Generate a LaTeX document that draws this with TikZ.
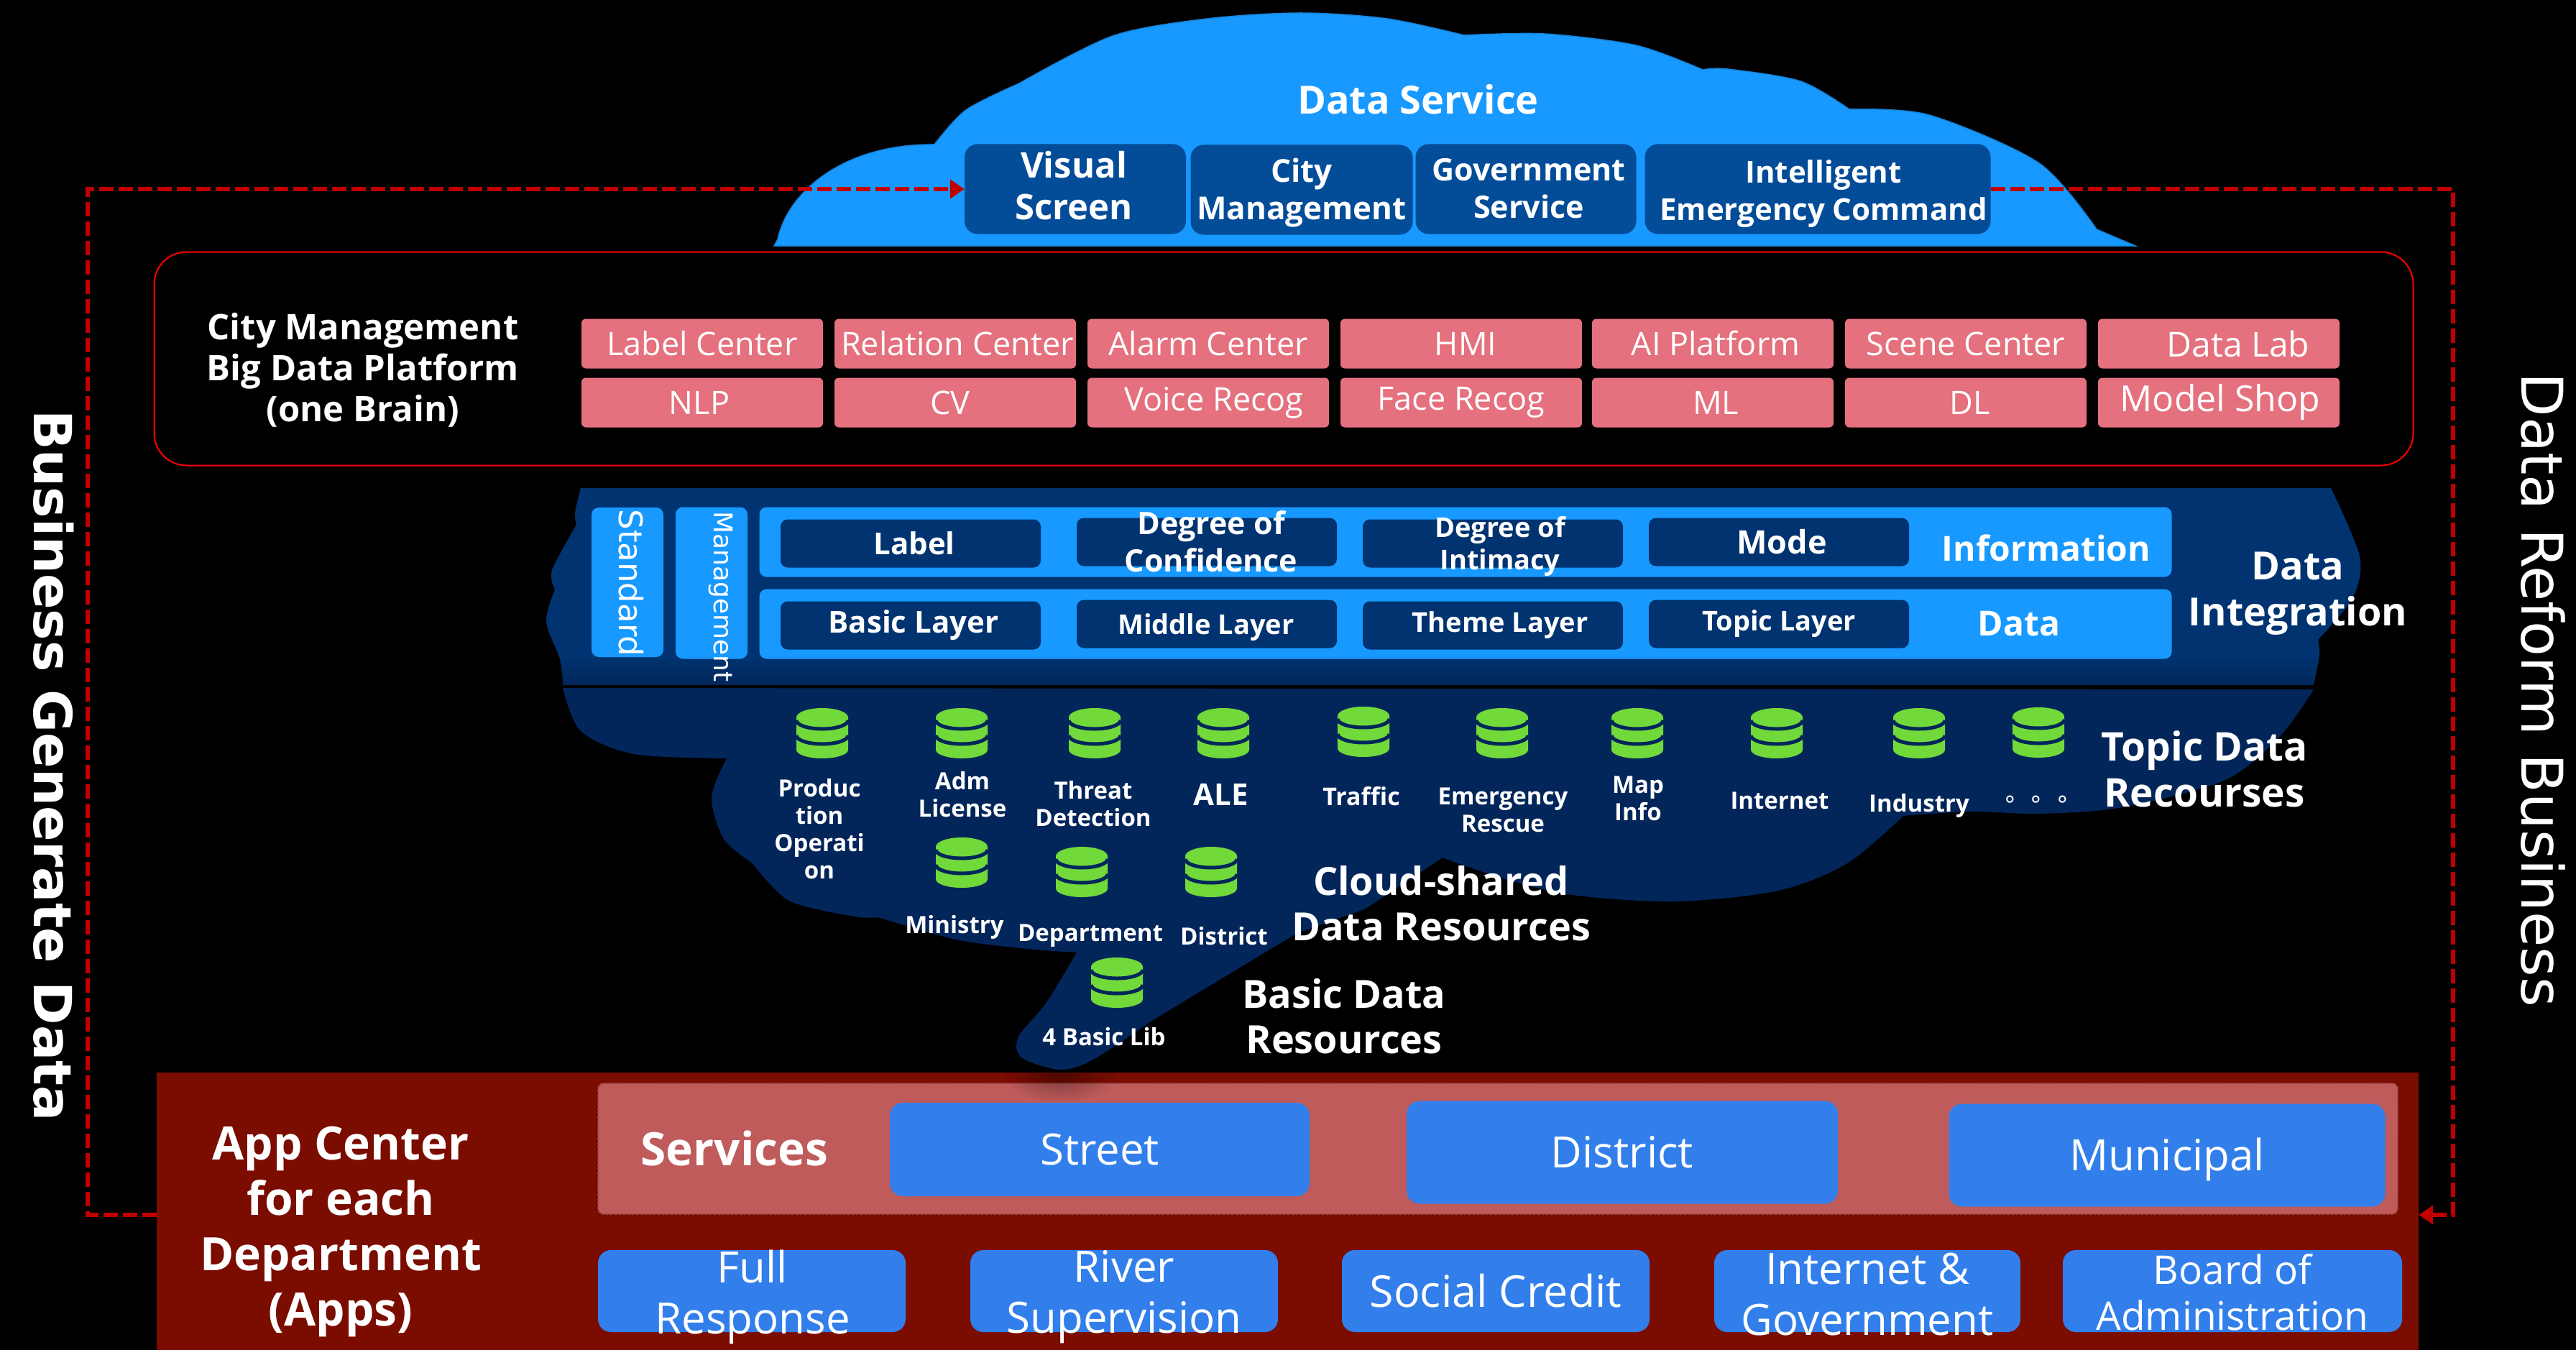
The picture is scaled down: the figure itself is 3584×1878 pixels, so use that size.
\documentclass[tikz,border=0pt]{standalone}
\usepackage{fontspec}
\setmainfont{Open Sans}
\newfontfamily\widefont{DejaVu Sans}
\usetikzlibrary{arrows.meta,fadings}
\definecolor{cloudblue}{RGB}{24,153,255}
\definecolor{deepblue}{RGB}{3,76,152}
\definecolor{layernavy}{RGB}{0,51,112}
\definecolor{resnavy}{RGB}{2,38,90}
\definecolor{brainpink}{RGB}{229,112,126}
\definecolor{dbgreen}{RGB}{114,217,59}
\definecolor{bandred}{RGB}{123,12,0}
\definecolor{barrose}{RGB}{191,91,91}
\definecolor{appblue}{RGB}{50,127,235}
\definecolor{linkred}{RGB}{192,0,0}
\tikzfading[name=softspot, inner color=transparent!0, outer color=transparent!100]
\def\pxfont#1#2{\fontsize{#1pt}{#2pt}\selectfont}
\def\dbicon(#1,#2){
	\fill[dbgreen] ({#1-36},{#2+13}) arc[start angle=180,end angle=360,x radius=36,y radius=13] -- ({#1+36},{#2+58}) arc[start angle=0,end angle=180,x radius=36,y radius=12] -- cycle;
	\draw[resnavy, line width=5] ({#1-36},{#2+17}) arc[start angle=180,end angle=0,x radius=36,y radius=12];
	\draw[resnavy, line width=5] ({#1-36},{#2+38}) arc[start angle=180,end angle=0,x radius=36,y radius=12];
}
\tikzset{
	plain/.style={text=white, inner sep=0pt, align=center},
	headtext/.style={plain, font=\bfseries\pxfont{54}{63}},
	servicebox/.style={plain, fill=deepblue, rounded corners=18, minimum height=125},
	brainbox/.style={plain, fill=brainpink, rounded corners=6, minimum width=336, minimum height=69, font=\pxfont{45}{52}},
	rowbar/.style={plain, fill=cloudblue, rounded corners=10, minimum width=1965, minimum height=97},
	sidebar/.style={plain, fill=cloudblue, rounded corners=10, minimum width=100},
	layerbox/.style={plain, fill=layernavy, rounded corners=10, minimum width=362, minimum height=67, font=\bfseries\pxfont{38}{46}},
	dbtext/.style={plain, font=\bfseries\pxfont{33}{38}},
	appbox/.style={plain, fill=appblue, rounded corners=18, font=\pxfont{60}{70}},
	flowline/.style={linkred, line width=6, dash pattern=on 20pt off 7pt, -{Triangle[length=20pt,width=26pt]}},
}
\begin{document}
\begin{tikzpicture}[x=1pt,y=-1pt]
		\fill[black] (0,0) rectangle (3584,1878);
		\useasboundingbox (0,0) rectangle (3584,1878);
		
		%%%%% data service %%%%%
		\filldraw[cloudblue!85!black, fill=cloudblue, line width=1.5] (1077,342)
			-- (1082,333) .. controls (1095,270) and (1170,200) .. (1300,201)
			-- plot[smooth] coordinates {(1300,201) (1344,153) (1418,116)}
			-- plot[smooth] coordinates {(1418,116) (1548,50) (1680,26) (1810,18) (1930,26) (2037,49)}
			-- plot[smooth] coordinates {(2037,49) (2148,47) (2276,63) (2369,97)}
			-- plot[smooth] coordinates {(2369,97) (2403,96) (2505,113) (2573,152)}
			-- plot[smooth] coordinates {(2573,152) (2684,160) (2837,227) (2917,319)}
			-- (2971,342) -- cycle;
		\node[plain, font=\bfseries\pxfont{54}{60}] (dataservice) at (1973,138) {Data Service};
		\node[servicebox, minimum width=308] (visual) at (1496,263) {};
		\node[plain, font=\bfseries\pxfont{49}{58}] (visualtext) at (1494,258) {Visual\\Screen};
		\node[servicebox, minimum width=309] (citymgmt) at (1811,264) {};
		\node[plain, font=\bfseries\pxfont{44}{52}] (citymgmttext) at (1811,268) {City\\Management};
		\node[servicebox, minimum width=307] (govservice) at (2123,263) {};
		\node[plain, font=\bfseries\pxfont{43}{52}] (govservicetext) at (2127,262) {Government\\Service};
		\node[servicebox, minimum width=481] (emergency) at (2529,263) {};
		\node[plain, font=\bfseries\pxfont{42}{52}] (emergencytext) at (2537,270) {Intelligent\\Emergency Command};
		
		%%%%% brain %%%%%
		\node[draw=red, line width=2, rounded corners=45, minimum width=3143, minimum height=297] (brainframe) at (1786,499) {};
		\node[plain, font=\bfseries\pxfont{49}{57}] (braintitle) at (505,515) {City Management\\Big Data Platform\\(one Brain)};
		\node[brainbox] (labelcenter) at (977,478) {Label Center};
		\node[brainbox] (relationcenter) at (1329,478) {\hspace{6pt}Relation Center};
		\node[brainbox] (alarmcenter) at (1681,478) {Alarm Center};
		\node[brainbox] (hmi) at (2033,478) {\hspace{12pt}HMI};
		\node[brainbox] (aiplatform) at (2383,478) {\hspace{8pt}AI Platform};
		\node[brainbox] (scenecenter) at (2735,478) {Scene Center};
		\node[brainbox, font=\pxfont{48}{52}] (datalab) at (3087,478) {\hspace{54pt}Data Lab};
		\node[brainbox] (nlp) at (977,560) {NLP\hspace{8pt}};
		\node[brainbox] (cv) at (1329,560) {CV\hspace{14pt}};
		\node[brainbox] (voicerecog) at (1681,560) {\hspace{16pt}Voice Recog};
		\node[brainbox] (facerecog) at (2033,560) {Face Recog};
		\node[brainbox] (ml) at (2383,560) {\hspace{8pt}ML};
		\node[brainbox] (dl) at (2735,560) {\hspace{12pt}DL};
		\node[brainbox, font=\pxfont{50}{56}] (modelshop) at (3087,560) {\hspace{4pt}Model Shop};
		
		%%%%% data integration %%%%%
		\begin{scope}
			\clip (808,679) -- plot[smooth] coordinates {(808,679) (800,713) (802,730)}
				-- plot[smooth] coordinates {(802,730) (768,793) (772,820)}
				-- plot[smooth] coordinates {(772,820) (760,865) (779,917) (783,953)}
				-- (3219,953)
				-- plot[smooth] coordinates {(3219,953) (3227,911) (3225,890)}
				-- plot[smooth] coordinates {(3225,890) (3273,832) (3283,774) (3243,679)}
				-- cycle;
			\fill[layernavy] (700,670) rectangle (3300,915);
			\shade[top color=layernavy, bottom color=resnavy] (700,915) rectangle (3300,954);
		\end{scope}
		\fill[resnavy] (783,957)
			-- plot[smooth] coordinates {(783,957) (808,1017) (882,1049) (1011,1055)}
			-- plot[smooth] coordinates {(1011,1055) (990,1109) (1007,1167) (1047,1201)}
			-- plot[smooth] coordinates {(1047,1201) (1098,1253) (1189,1275) (1222,1276)}
			-- plot[smooth] coordinates {(1222,1276) (1330,1307) (1430,1320) (1498,1325)}
			-- plot[smooth] coordinates {(1498,1325) (1455,1396) (1417,1442) (1421,1471) (1475,1488) (1521,1474) (1604,1419)}
			-- (1803,1299) -- (1900,1264) -- (2007,1193)
			-- plot[smooth] coordinates {(2007,1193) (2091,1222) (2187,1245) (2331,1254) (2474,1239) (2570,1201) (2648,1135)}
			-- plot[smooth] coordinates {(2648,1135) (2742,1129) (2838,1132) (2953,1123) (3096,1085) (3173,1023) (3219,959)}
			-- cycle;
		
		\node[sidebar, minimum height=208] (standard) at (873,810) {};
		\node[plain, rotate=-90, font=\widefont\pxfont{45}{50}] (standardtext) at (878,811) {Standard};
		\node[sidebar, minimum height=211] (management) at (990,811) {};
		\node[plain, rotate=-90, font=\widefont\pxfont{36}{40}] (managementtext) at (1003,830) {Management};
		\node[rowbar] (inforow) at (2039,754) {};
		\node[rowbar] (datarow) at (2039,868) {};
		\node[plain, font=\bfseries\pxfont{48}{56}] (information) at (2847,762) {Information};
		\node[plain, font=\bfseries\pxfont{48}{56}] (datatext) at (2809,868) {Data};
		
		\node[layerbox, font=\bfseries\pxfont{42}{50}] (label) at (1267,756) {\hspace{10pt}Label};
		\node[layerbox] (confidence) at (1679,754) {};
		\node[plain, font=\bfseries\pxfont{43}{52}] (confidencetext) at (1685,753) {Degree of\\Confidence};
		\node[layerbox] (intimacy) at (2077,756) {};
		\node[plain, font=\bfseries\pxfont{38}{45}] (intimacytext) at (2087,760) {Degree of\\Intimacy};
		\node[layerbox, font=\bfseries\pxfont{45}{52}] (mode) at (2475,754) {\hspace{8pt}Mode};
		\node[layerbox, font=\bfseries\pxfont{42}{50}] (basiclayer) at (1267,870) {\hspace{8pt}Basic Layer};
		\node[layerbox] (middlelayer) at (1679,868) {};
		\node[plain, font=\bfseries\pxfont{38}{46}] (middletext) at (1678,873) {Middle Layer};
		\node[layerbox] (themelayer) at (2077,870) {\hspace{20pt}Theme Layer};
		\node[layerbox] (topiclayer) at (2475,868) {Topic Layer};
		\node[plain, font=\bfseries\pxfont{54}{64}] (integration) at (3197,826) {Data\\Integration};
		
		%%%%% data resources %%%%%
		\dbicon(1144,985)
		\dbicon(1338,985)
		\dbicon(1523,985)
		\dbicon(1702,985)
		\dbicon(1897,983)
		\dbicon(2090,985)
		\dbicon(2278,985)
		\dbicon(2472,985)
		\dbicon(2670,985)
		\dbicon(2836,984)
		\dbicon(1338,1165)
		\dbicon(1505,1178)
		\dbicon(1685,1178)
		\dbicon(1554,1332)
		
		\node[dbtext] (production) at (1140,1153) {Produc\\tion\\Operati\\on};
		\node[dbtext] (admlicense) at (1339,1105) {Adm\\License};
		\node[dbtext] (threat) at (1521,1118) {Threat\\Detection};
		\node[dbtext, font=\bfseries\pxfont{42}{48}] (ale) at (1699,1105) {ALE};
		\node[dbtext, font=\bfseries\pxfont{34}{40}] (traffic) at (1894,1108) {Traffic};
		\node[dbtext] (rescue) at (2091,1127) {Emergency\\Rescue};
		\node[dbtext] (mapinfo) at (2279,1111) {Map\\Info};
		\node[dbtext] (internetres) at (2476,1114) {Internet};
		\node[dbtext] (industry) at (2670,1121) {Industry};
		\node[dbtext, font=\widefont\pxfont{33}{38}] (moredots) at (2833,1115) {∘\hspace{16pt}∘\hspace{16pt}∘};
		\node[dbtext] (ministry) at (1328,1290) {Ministry};
		\node[dbtext] (department) at (1517,1302) {Department};
		\node[dbtext] (districtres) at (1703,1302) {District};
		\node[dbtext] (basiclib) at (1536,1442) {4 Basic Lib};
		
		\node[headtext, font=\bfseries\pxfont{55}{64}] (topicdata) at (3067,1070) {Topic Data\\Recourses};
		\node[headtext] (cloudshared) at (2005,1257) {Cloud-shared\\Data Resources};
		\node[headtext] (basicdata) at (1870,1414) {Basic Data\\Resources};
		
		%%%%% apps %%%%%
		\node[fill=bandred, inner sep=0pt, minimum width=3147, minimum height=386] (appband) at (1791.5,1685) {};
		\node[fill=barrose, draw=barrose!80!black, dashed, line width=2, rounded corners=8, inner sep=0pt, minimum width=2504, minimum height=182] (servicebar) at (2084,1598) {};
		\begin{scope}
			\clip (1300,1492) rectangle (1650,1600);
			\fill[black, opacity=.35, path fading=softspot] (1475,1495) ellipse (80 and 40);
		\end{scope}
		\node[plain, font=\bfseries\pxfont{64}{77}] (appcenter) at (474,1713) {App Center\\for each\\Department\\(Apps)};
		\node[plain, font=\bfseries\pxfont{64}{70}] (services) at (1022,1597) {Services};
		\node[appbox, minimum width=584, minimum height=130] (street) at (1530,1599) {Street};
		\node[appbox, minimum width=600, minimum height=143] (districtapp) at (2257,1603) {District};
		\node[appbox, minimum width=607, minimum height=143] (municipal) at (3015,1607) {};
		\node[plain, font=\pxfont{60}{70}] (municipaltext) at (3015,1613) {Municipal};
		
		\node[appbox, minimum width=428, minimum height=114] (fullresponse) at (1046,1796) {};
		\node[plain, font=\pxfont{60}{71}] (fullresponsetext) at (1047,1804) {Full\\Response};
		\node[appbox, minimum width=428, minimum height=114] (river) at (1564,1796) {};
		\node[plain, font=\pxfont{60}{71}] (rivertext) at (1564,1804) {River\\Supervision};
		\node[appbox, font=\pxfont{61}{70}, minimum width=428, minimum height=114] (socialcredit) at (2081,1796) {Social Credit};
		\node[appbox, minimum width=426, minimum height=114] (internetgov) at (2598,1796) {};
		\node[plain, font=\pxfont{60}{71}] (internetgovtext) at (2598,1801) {Internet \&\\Government};
		\node[appbox, minimum width=472, minimum height=114] (board) at (3106,1796) {};
		\node[plain, font=\pxfont{55}{64}] (boardtext) at (3106,1798) {Board of\\Administration};
		
		%%%%% side links %%%%%
		\coordinate (leftrail) at (122,263);
		\coordinate (rightrail) at (3413,263);
		\draw[flowline] (appband.west |- servicebar.south) -| (leftrail) -- (visual.west);
		\draw[flowline] (emergency.east) -- (rightrail) |- (appband.east |- servicebar.south);
		\node[plain, rotate=-90, font=\widefont\bfseries\pxfont{73}{80}] (businessdata) at (75,1065) {Business Generate Data};
		\node[plain, rotate=-90, font=\widefont\pxfont{80}{90}] (reformbusiness) at (3538,960) {Data Reform Business};
		
\end{tikzpicture}
\end{document}
